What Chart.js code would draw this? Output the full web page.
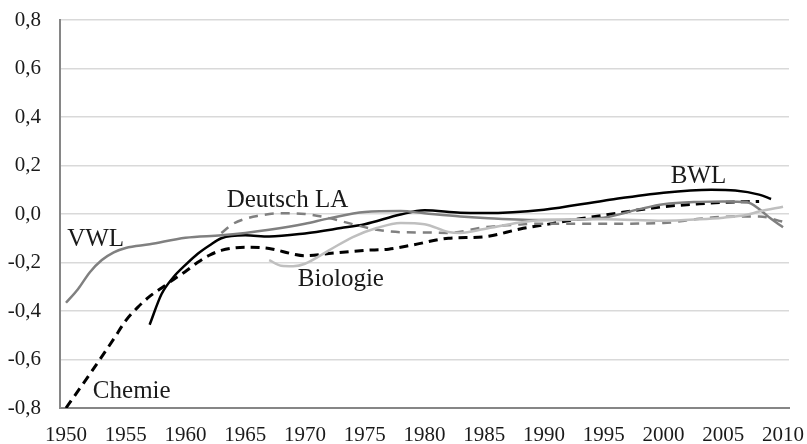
<!DOCTYPE html>
<html>
<head>
<meta charset="utf-8">
<script src="https://cdn.jsdelivr.net/npm/chart.js@4"></script>
<style>
  html, body { margin: 0; padding: 0; background: #fff; }
  #wrap { width: 807px; height: 444px; }
</style>
</head>
<body>
<div id="wrap"><canvas id="myChart" width="807" height="444"></canvas></div>
<script>
// x tick labels (years) and y range
const xTickLabels = [1950, 1955, 1960, 1965, 1970, 1975, 1980, 1985, 1990, 1995, 2000, 2005, 2010];

// VWL (gray solid)
const vwlYears  = [1950, 1951, 1952, 1953, 1954, 1955, 1957, 1960, 1963, 1965, 1967, 1970, 1972, 1975, 1978, 1980, 1983, 1985, 1990, 1995, 1998, 2000, 2003, 2005, 2007, 2008, 2009, 2010];
const vwlValues = [-0.366, -0.31, -0.24, -0.19, -0.158, -0.14, -0.125, -0.098, -0.088, -0.078, -0.065, -0.04, -0.018, 0.008, 0.012, 0.003, -0.01, -0.016, -0.025, -0.015, 0.02, 0.04, 0.05, 0.052, 0.048, 0.02, -0.02, -0.055];

// Chemie (black dashed)
const chemieYears  = [1950, 1952, 1954, 1955, 1956, 1957, 1958, 1959, 1960, 1961, 1962, 1963, 1965, 1967, 1969, 1970, 1972, 1975, 1977, 1979, 1982, 1985, 1988, 1990, 1993, 1995, 2000, 2003, 2005, 2008];
const chemieValues = [-0.8, -0.66, -0.515, -0.44, -0.385, -0.34, -0.305, -0.27, -0.237, -0.2, -0.17, -0.15, -0.137, -0.142, -0.165, -0.172, -0.163, -0.15, -0.145, -0.128, -0.1, -0.094, -0.062, -0.045, -0.02, -0.005, 0.03, 0.042, 0.048, 0.052];

// BWL (black solid)
const bwlYears  = [1957, 1958, 1959, 1960, 1961, 1962, 1963, 1965, 1967, 1970, 1973, 1975, 1978, 1980, 1983, 1985, 1990, 1995, 2000, 2004, 2006, 2008, 2009];
const bwlValues = [-0.457, -0.33, -0.26, -0.21, -0.165, -0.13, -0.1, -0.088, -0.093, -0.08, -0.058, -0.042, -0.002, 0.015, 0.005, 0.004, 0.018, 0.055, 0.088, 0.1, 0.097, 0.08, 0.062];

// Deutsch LA (gray dashed)
const deutschYears  = [1963, 1964, 1965, 1966, 1968, 1970, 1972, 1974, 1976, 1978, 1980, 1982, 1985, 1988, 1990, 1995, 2000, 2003, 2006, 2008, 2010];
const deutschValues = [-0.078, -0.04, -0.02, -0.008, 0.003, 0.0, -0.017, -0.042, -0.065, -0.075, -0.076, -0.078, -0.055, -0.043, -0.04, -0.04, -0.037, -0.02, -0.01, -0.01, -0.032];

// Biologie (light gray solid)
const bioYears  = [1967, 1968, 1969, 1970, 1972, 1974, 1976, 1978, 1980, 1982, 1983, 1985, 1988, 1990, 1995, 2000, 2003, 2005, 2007, 2008, 2010];
const bioValues = [-0.19, -0.213, -0.215, -0.205, -0.15, -0.095, -0.058, -0.037, -0.042, -0.074, -0.078, -0.062, -0.035, -0.025, -0.022, -0.028, -0.022, -0.015, -0.003, 0.01, 0.03];

// in-chart series labels: [text, year, value]
const seriesLabels = [
  ["VWL", 1950.1, -0.132],
  ["Deutsch LA", 1963.45, 0.029],
  ["Biologie", 1969.4, -0.296],
  ["Chemie", 1952.25, -0.757],
  ["BWL", 2000.6, 0.128],
];

function pts(xs, ys) {
  return xs.map((x, i) => ({ x: x, y: ys[i] }));
}

const labelPlugin = {
  id: "seriesLabels",
  afterDatasetsDraw(chart) {
    const ctx = chart.ctx;
    const xs = chart.scales.x, ys = chart.scales.y;
    ctx.save();
    ctx.font = '25px "Liberation Serif"';
    ctx.fillStyle = "#1a1a1a";
    ctx.textAlign = "left";
    ctx.textBaseline = "alphabetic";
    seriesLabels.forEach(l => {
      ctx.fillText(l[0], xs.getPixelForValue(l[1]), ys.getPixelForValue(l[2]));
    });
    ctx.restore();
  }
};

const ctx = document.getElementById("myChart").getContext("2d");
const common = { pointRadius: 0, fill: false, cubicInterpolationMode: "monotone" };
window.chart = new Chart(ctx, {
  type: "line",
  data: {
    datasets: [
      { ...common, label: "Biologie", data: pts(bioYears, bioValues), borderColor: "#bfbfbf", borderWidth: 2.5 },
      { ...common, label: "VWL", data: pts(vwlYears, vwlValues), borderColor: "#808080", borderWidth: 2.5 },
      { ...common, label: "Deutsch LA", data: pts(deutschYears, deutschValues), borderColor: "#808080", borderWidth: 2.5, borderDash: [9, 7] },
      { ...common, label: "BWL", data: pts(bwlYears, bwlValues), borderColor: "#000000", borderWidth: 2.5 },
      { ...common, label: "Chemie", data: pts(chemieYears, chemieValues), borderColor: "#000000", borderWidth: 3, borderDash: [9, 6] },
    ],
  },
  options: {
    responsive: false,
    animation: false,
    layout: { padding: { top: 0, right: 18, left: 0, bottom: 0 } },
    plugins: { legend: { display: false }, tooltip: { enabled: false } },
    scales: {
      x: {
        type: "linear",
        min: 1949.5,
        max: 2010.5,
        afterBuildTicks: (scale) => { scale.ticks = xTickLabels.map(v => ({ value: v })); },
        afterFit: (scale) => {
          scale.height = 36;
          scale.paddingLeft = 0;
          scale.paddingRight = 0;
        },
        grid: { display: false },
        border: { display: true, color: "#868686", width: 2 },
        ticks: {
          autoSkip: false,
          maxRotation: 0,
          padding: 7,
          color: "#1a1a1a",
          font: { family: "Liberation Serif", size: 21 },
          callback: (v) => String(v),
        },
      },
      y: {
        min: -0.8,
        max: 0.8,
        afterFit: (scale) => {
          scale.width = 60;
          scale.paddingTop = 20;
          scale.paddingBottom = 0;
        },
        grid: { color: "#d9d9d9", lineWidth: 1.5, drawTicks: false },
        border: { display: true, color: "#868686", width: 2 },
        ticks: {
          stepSize: 0.2,
          padding: 19,
          color: "#1a1a1a",
          font: { family: "Liberation Serif", size: 21 },
          callback: (v) => (Math.abs(v) < 1e-9 ? 0 : v).toFixed(1).replace(".", ","),
        },
      },
    },
  },
  plugins: [labelPlugin],
});
</script>
</body>
</html>
